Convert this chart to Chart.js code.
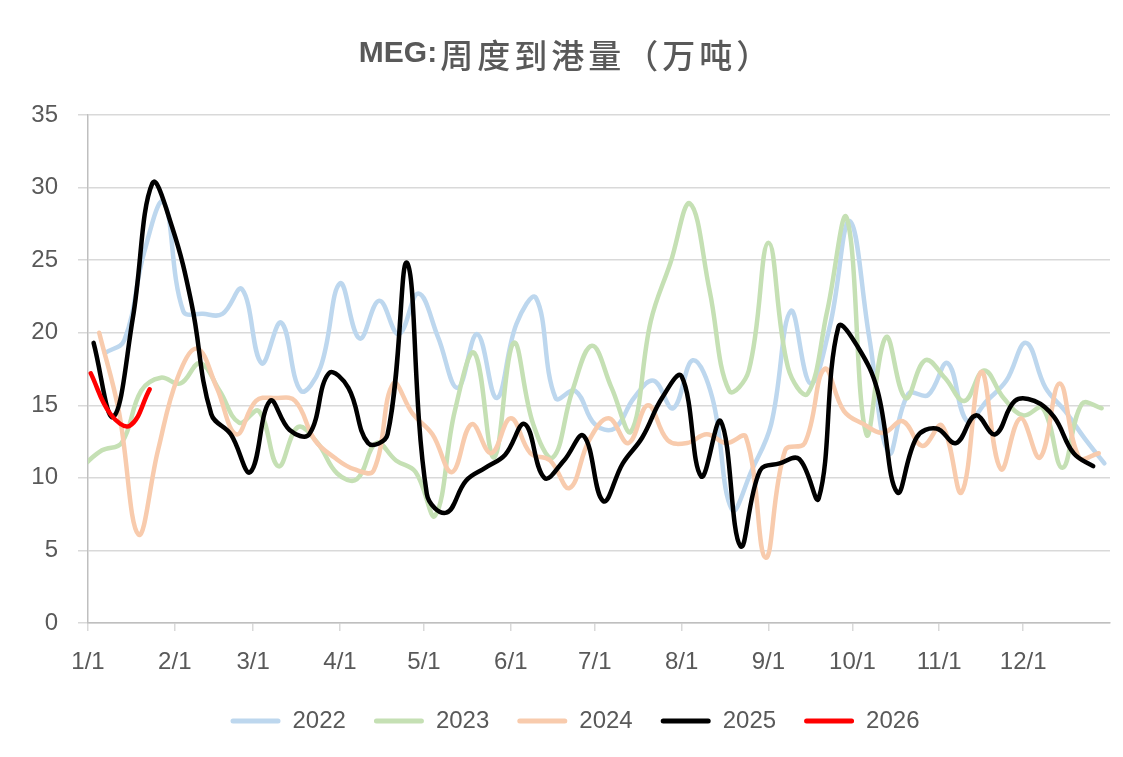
<!DOCTYPE html>
<html>
<head>
<meta charset="utf-8">
<script src="https://cdn.jsdelivr.net/npm/chart.js@4.4.1/dist/chart.umd.min.js"></script>
<style>
  html, body { margin: 0; padding: 0; background: #fff; }
</style>
</head>
<body>
<canvas id="chart" width="1123" height="757"></canvas>
<script>
// MEG weekly port arrivals (10k tonnes), one point per week
var titleLatin = "MEG:";
var titleCjk = "周度到港量（万吨）";
var monthDays = [0, 31, 59, 90, 120, 151, 181, 212, 243, 273, 304, 334];
var monthLabels = ["1/1", "2/1", "3/1", "4/1", "5/1", "6/1", "7/1", "8/1", "9/1", "10/1", "11/1", "12/1"];

var seriesNames = ["2022", "2023", "2024", "2025", "2026"];
var seriesColors = ["#bdd7ee", "#c5e0b4", "#f8cbad", "#000000", "#ff0000"];
// day of year of each series' first weekly point
var startDays = [6, -2, 4, 2, 1];

var v2022 = [18.6, 19.5, 25.5, 29.0, 21.5, 21.3, 21.3, 23.0, 17.9, 20.7,
             16.0, 17.6, 23.4, 19.6, 22.2, 19.9, 22.7, 19.7, 16.2, 19.9,
             15.5, 20.6, 22.4, 15.5, 16.0, 13.7, 13.4, 15.5, 16.7, 14.8,
             18.1, 15.5, 7.8, 10.5, 13.7, 21.5, 16.5, 20.5, 27.7, 19.7,
             11.7, 15.8, 15.7, 17.9, 13.9, 15.3, 16.7, 19.3, 16.2, 14.6,
             12.7, 11.0];
var v2023 = [10.8, 11.9, 12.4, 16.0, 16.9, 16.5, 17.9, 16.0, 13.8, 14.6,
             10.8, 13.5, 12.4, 10.3, 9.9, 12.4, 11.2, 10.4, 7.4, 14.6,
             18.6, 11.4, 19.3, 13.7, 11.4, 16.0, 19.1, 16.2, 13.2, 20.8,
             24.8, 28.9, 22.9, 16.0, 17.4, 26.2, 17.6, 15.8, 21.5, 27.9,
             13.0, 19.7, 15.5, 18.1, 16.9, 15.3, 17.4, 15.5, 14.3, 14.8,
             10.7, 15.1, 14.8];
var v2024 = [20.0, 14.6, 6.1, 11.9, 16.9, 18.9, 16.2, 13.0, 15.3, 15.5,
             15.3, 12.6, 11.4, 10.6, 10.5, 16.5, 14.4, 13.0, 10.4, 13.7,
             11.7, 14.1, 11.7, 11.2, 9.3, 12.6, 14.1, 12.4, 15.0, 12.6,
             12.4, 13.0, 12.4, 12.8, 4.5, 11.9, 12.4, 17.5, 14.6, 13.7,
             13.1, 13.9, 12.2, 13.6, 9.0, 17.3, 10.6, 14.1, 11.4, 16.5,
             11.4, 11.7];
var v2025 = [19.3, 14.2, 21.0, 30.3, 27.3, 22.0, 14.4, 13.0, 10.4, 15.3,
             13.3, 13.0, 17.2, 16.2, 12.4, 13.0, 24.8, 8.9, 7.6, 9.8,
             10.7, 11.6, 13.7, 10.0, 11.2, 12.9, 8.4, 11.0, 12.8, 15.5,
             17.0, 10.1, 13.9, 5.3, 10.5, 11.0, 11.3, 8.6, 20.4, 19.0,
             16.0, 9.0, 12.8, 13.4, 12.4, 14.3, 13.0, 15.3, 15.3, 14.2,
             11.7, 10.8];
var v2026 = [17.2, 14.4, 13.6, 16.1];

var seriesValues = [v2022, v2023, v2024, v2025, v2026];

function weeklyPoints(values, start) {
  return values.map(function(v, i) {
    return { x: start + 7 * i, y: v };
  });
}

var textColor = "#595959";
var fontFamily = "'Liberation Sans', 'Noto Sans CJK SC', sans-serif";

var datasets = seriesNames.map(function(name, i) {
  return {
    label: name,
    data: weeklyPoints(seriesValues[i], startDays[i]),
    borderColor: seriesColors[i],
    backgroundColor: seriesColors[i],
    borderWidth: 4.5,
    pointRadius: 0,
    tension: 0.4,
    borderCapStyle: "round",
    borderJoinStyle: "round",
    order: seriesNames.length - i   // later years drawn on top
  };
});

// title drawn by hand: bold latin part, larger CJK part like the original
var spacedTitle = {
  id: "spacedTitle",
  afterLayout: function(chart) {
    // legend in the original sits a little right of the canvas centre
    if (chart.legend) chart.legend.left += 40;
  },
  afterDraw: function(chart) {
    var ctx = chart.ctx;
    ctx.save();
    ctx.fillStyle = textColor;
    ctx.textAlign = "left";
    ctx.textBaseline = "middle";
    ctx.font = "bold 30px " + fontFamily;
    var w1 = ctx.measureText(titleLatin).width;
    ctx.font = "500 33px 'Noto Sans CJK SC', sans-serif";
    ctx.letterSpacing = "4px";
    var w2 = ctx.measureText(titleCjk).width;
    var x0 = 566 - (w1 + w2 + 3) / 2;
    ctx.fillText(titleCjk, x0 + w1 + 3, 55);
    ctx.letterSpacing = "0px";
    ctx.font = "bold 30px " + fontFamily;
    ctx.fillText(titleLatin, x0, 54);
    ctx.restore();
  }
};

new Chart(document.getElementById("chart"), {
  type: "line",
  data: { datasets: datasets },
  plugins: [spacedTitle],
  options: {
    responsive: false,
    animation: false,
    layout: { padding: { top: 115, right: 13, bottom: 14, left: 0 } },
    plugins: {
      title: { display: false },
      tooltip: { enabled: false },
      legend: {
        position: "bottom",
        labels: {
          color: textColor,
          font: { family: fontFamily, size: 24 },
          boxWidth: 50,
          boxHeight: 5,
          padding: 28,
          useBorderRadius: true,
          borderRadius: 2.5,
          sort: function(a, b) { return a.datasetIndex - b.datasetIndex; },
          generateLabels: function(chart) {
            var items = Chart.defaults.plugins.legend.labels.generateLabels(chart);
            items.forEach(function(it) {
              it.fillStyle = it.strokeStyle;
              it.lineWidth = 0;
            });
            return items;
          }
        }
      }
    },
    scales: {
      x: {
        type: "linear",
        min: 0,
        max: 365,
        afterBuildTicks: function(scale) {
          scale.ticks = monthDays.map(function(d) { return { value: d }; });
        },
        afterFit: function(scale) { scale.height = 58; },
        ticks: {
          autoSkip: false,
          maxRotation: 0,
          padding: 17,
          color: textColor,
          font: { family: fontFamily, size: 24 },
          callback: function(v) { return monthLabels[monthDays.indexOf(v)]; }
        },
        grid: { drawOnChartArea: false, drawTicks: true, tickLength: 8, color: "#d9d9d9", lineWidth: 1.5 },
        border: { color: "#bfbfbf", width: 1.5 }
      },
      y: {
        min: 0,
        max: 35,
        afterFit: function(scale) { scale.width = 88; },
        ticks: {
          stepSize: 5,
          padding: 20,
          color: textColor,
          font: { family: fontFamily, size: 24 }
        },
        grid: { color: "#d9d9d9", lineWidth: 1.5, tickLength: 10 },
        border: { color: "#bfbfbf", width: 1.5 }
      }
    }
  }
});
</script>
</body>
</html>
